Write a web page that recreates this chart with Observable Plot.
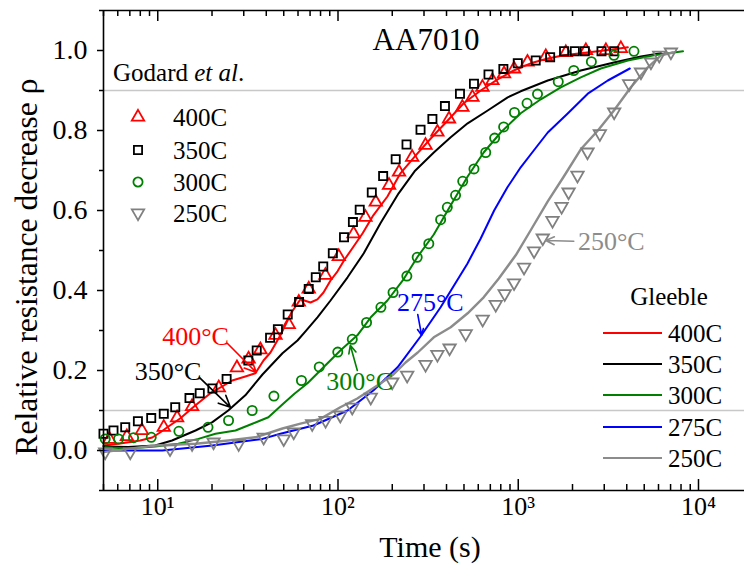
<!DOCTYPE html>
<html><head><meta charset="utf-8">
<script src="https://cdn.jsdelivr.net/npm/d3@7"></script>
<script src="https://cdn.jsdelivr.net/npm/@observablehq/plot@0.6"></script>
<style>body{margin:0;background:#fff} #chart svg{display:block}</style>
</head><body><div id="chart"></div>
<script>
// ---------- Godard et al. (markers) ----------
const godard400T = [5.4, 6.74, 8.17, 10.8, 12.8, 15.5, 21.8, 27.5, 31.9, 37.1, 45, 53.3, 60.6, 68.8, 85.2, 101, 122, 142, 162, 192, 218, 258, 306, 356, 413, 490, 557, 633, 719, 834, 948, 1125, 1422, 1837, 2373, 3065, 3710];
const godard400R = [0.028, 0.035, 0.05, 0.058, 0.082, 0.11, 0.157, 0.207, 0.229, 0.252, 0.288, 0.315, 0.371, 0.404, 0.438, 0.485, 0.542, 0.583, 0.621, 0.663, 0.696, 0.733, 0.763, 0.796, 0.829, 0.858, 0.883, 0.908, 0.925, 0.942, 0.954, 0.971, 0.985, 0.995, 1.0, 1.0, 1.005];
const godard350T = [5.0, 5.68, 6.6, 7.76, 9.2, 10.8, 12.5, 15.0, 17.1, 20.1, 24.1, 31.8, 35.4, 42, 46.4, 52.6, 60.8, 68.8, 75.3, 82.8, 93.6, 108, 121, 132, 154, 178, 209, 240, 287, 334, 392, 475, 568, 684, 827, 994, 1250, 1503, 1796, 2060, 2340, 2897, 3406];
const godard350R = [0.042, 0.05, 0.058, 0.073, 0.081, 0.092, 0.108, 0.131, 0.143, 0.155, 0.179, 0.225, 0.25, 0.282, 0.303, 0.34, 0.371, 0.404, 0.433, 0.46, 0.493, 0.533, 0.571, 0.602, 0.645, 0.686, 0.728, 0.765, 0.802, 0.829, 0.861, 0.892, 0.917, 0.94, 0.954, 0.968, 0.975, 0.983, 0.998, 0.998, 0.998, 0.998, 0.998];
const godard300T = [5.11, 6.06, 7.34, 9.2, 13.1, 19.0, 24.7, 33.4, 44.1, 62.7, 78.7, 99.7, 120, 144, 173, 202, 241, 275, 319, 371, 404, 449, 492, 568, 660, 740, 830, 953, 1119, 1279, 1667, 2033, 2545, 3396, 4385];
const godard300R = [0.029, 0.029, 0.032, 0.033, 0.048, 0.058, 0.075, 0.1, 0.136, 0.175, 0.209, 0.246, 0.278, 0.32, 0.358, 0.395, 0.436, 0.483, 0.517, 0.577, 0.608, 0.638, 0.673, 0.704, 0.745, 0.781, 0.809, 0.845, 0.868, 0.891, 0.922, 0.95, 0.972, 0.988, 0.998];
const godard250T = [5.11, 7.04, 11.7, 15.5, 20.4, 28.1, 38.7, 50, 56.8, 71.9, 85.3, 103, 120, 152, 200, 242, 306, 356, 416, 511, 635, 750, 841, 948, 1077, 1224, 1368, 1549, 1740, 1903, 2132, 2423, 2836, 3406, 4126, 4797, 5449, 6058, 7031];
const godard250R = [-0.004, -0.004, 0.004, 0.017, 0.021, 0.017, 0.033, 0.029, 0.046, 0.067, 0.075, 0.088, 0.108, 0.133, 0.171, 0.188, 0.215, 0.24, 0.256, 0.292, 0.328, 0.365, 0.392, 0.419, 0.458, 0.499, 0.531, 0.575, 0.61, 0.646, 0.688, 0.746, 0.792, 0.846, 0.917, 0.946, 0.971, 0.988, 0.996];

// ---------- Gleeble (lines) ----------
const gleeble400T = [5.0, 6.19, 7.99, 9.32, 10.3, 11.3, 13.3, 16.2, 19.6, 25.9, 30.6, 34.8, 38.6, 42.2, 47.9, 55.2, 61.9, 70.4, 76.9, 83.1, 90.9, 99.4, 109, 122, 137, 157, 188, 222, 270, 327, 406, 498, 619, 769, 944, 1172, 1458, 1790, 2223, 2766, 3396, 4055];
const gleeble400R = [0.0125, 0.0175, 0.025, 0.0325, 0.045, 0.058, 0.08, 0.113, 0.143, 0.175, 0.185, 0.193, 0.225, 0.245, 0.288, 0.345, 0.378, 0.37, 0.378, 0.395, 0.425, 0.448, 0.478, 0.51, 0.543, 0.588, 0.635, 0.693, 0.738, 0.78, 0.825, 0.868, 0.9, 0.928, 0.95, 0.968, 0.98, 0.988, 0.993, 0.998, 1.003, 1.008];
const gleeble350T = [5.0, 6.86, 9.68, 12.0, 16.2, 20.1, 24.6, 30.6, 38.1, 49.2, 59.6, 66.0, 76.9, 90.9, 113, 139, 172, 217, 266, 340, 422, 524, 677, 874, 1032, 1458, 2223, 3396, 4797, 6194];
const gleeble350R = [0.01, 0.009, 0.0125, 0.025, 0.05, 0.071, 0.1, 0.138, 0.19, 0.243, 0.275, 0.298, 0.333, 0.375, 0.433, 0.493, 0.568, 0.643, 0.698, 0.745, 0.783, 0.818, 0.85, 0.883, 0.898, 0.925, 0.95, 0.97, 0.985, 0.993];
const gleeble300T = [5.11, 6.86, 9.68, 13.0, 16.8, 20.9, 27.0, 33.5, 41.1, 48.6, 57.3, 67.7, 83.1, 103, 128, 152, 188, 231, 277, 340, 422, 524, 643, 799, 1032, 1334, 1722, 2223, 2871, 4055, 5660, 8204];
const gleeble300R = [0.008, 0.005, 0.01, 0.017, 0.029, 0.042, 0.05, 0.067, 0.083, 0.113, 0.142, 0.168, 0.208, 0.25, 0.288, 0.333, 0.375, 0.428, 0.485, 0.54, 0.613, 0.685, 0.745, 0.795, 0.843, 0.878, 0.908, 0.933, 0.955, 0.975, 0.988, 0.998];
const gleeble275T = [5.0, 10.6, 20.1, 38.1, 47.9, 73.1, 113, 157, 214, 287, 371, 522, 619, 735, 871, 1032, 1219, 1458, 1875, 2431, 3140, 4159];
const gleeble275R = [0, 0, 0.0125, 0.029, 0.042, 0.0625, 0.1, 0.15, 0.208, 0.285, 0.358, 0.467, 0.53, 0.6, 0.658, 0.708, 0.75, 0.795, 0.842, 0.892, 0.925, 0.955];
const gleeble250T = [5.0, 6.86, 9.68, 16.2, 24.6, 34.8, 49.2, 61.9, 79.9, 103, 128, 166, 203, 237, 277, 340, 422, 524, 643, 780, 968, 1188, 1458, 1790, 2223, 2766, 3396, 4217, 5236, 6194, 7211];
const gleeble250R = [-0.004, 0.004, 0.0125, 0.017, 0.025, 0.033, 0.055, 0.067, 0.079, 0.108, 0.13, 0.163, 0.19, 0.22, 0.245, 0.283, 0.308, 0.343, 0.383, 0.43, 0.488, 0.555, 0.623, 0.685, 0.753, 0.8, 0.85, 0.908, 0.958, 0.988, 0.995];

// ---------- labels / ticks ----------
const godardNames = ["400C", "350C", "300C", "250C"];
const gleebleNames = ["400C", "350C", "300C", "275C", "250C"];
const majorX = [10, 100, 1000, 10000];
const majorXLabels = ["10¹", "10²", "10³", "10⁴"];
const minorX = [5, 6, 7, 8, 9, 20, 30, 40, 50, 60, 70, 80, 90, 200, 300, 400, 500, 600, 700, 800, 900, 2000, 3000, 4000, 5000, 6000, 7000, 8000, 9000];
const majorY = [0, 0.2, 0.4, 0.6, 0.8, 1.0];
const minorY = [-0.1, 0.1, 0.3, 0.5, 0.7, 0.9, 1.1];
const refLinesY = [0.1, 0.9];
const xDomain = [5, 18000];
const yDomain = [-0.1, 1.1];

// annotations (data coordinates)
const annotText = ["400°C", "350°C", "300°C", "275°C", "250°C"];
const annotX = [16.2, 11.4, 132, 325, 2143];
const annotY = [0.285, 0.198, 0.173, 0.37, 0.523];
const arrowX1 = [24.3, 17.0, 128, 277, 2033];
const arrowY1 = [0.268, 0.183, 0.2, 0.34, 0.523];
const arrowX2 = [35.2, 25.3, 117, 291, 1422];
const arrowY2 = [0.195, 0.108, 0.263, 0.288, 0.525];

// ---------- styles ----------
const godardColors = ["#ff0000", "#000000", "#008000", "#808080"];
const godardSymbols = ["triangle", "square", "circle", "triangle"];
const godardRotate = [0, 0, 0, 180];
const gleebleColors = ["#ff0000", "#000000", "#008000", "#0000ff", "#8c8c8c"];
const annotColors = ["#ff0000", "#000000", "#008000", "#0000ff", "#8c8c8c"];
const annotAnchor = ["middle", "middle", "middle", "middle", "start"];
const FONT = "'Liberation Serif', 'Times New Roman', serif";

const W = 744, H = 570;
const rows = (t, r) => t.map((d, i) => ({t: d, r: r[i]}));
const godardT = [godard400T, godard350T, godard300T, godard250T];
const godardR = [godard400R, godard350R, godard300R, godard250R];
const gleebleT = [gleeble400T, gleeble350T, gleeble300T, gleeble275T, gleeble250T];
const gleebleR = [gleeble400R, gleeble350R, gleeble300R, gleeble275R, gleeble250R];
const annots = annotText.map((s, i) => ({s, x: annotX[i], y: annotY[i], x1: arrowX1[i], y1: arrowY1[i], x2: arrowX2[i], y2: arrowY2[i], c: annotColors[i], a: annotAnchor[i]}));

const marks = [
  Plot.ruleY(refLinesY, {stroke: "#c8c8c8", strokeWidth: 1.3}),
  ...gleebleT.map((t, i) => Plot.line(rows(t, gleebleR[i]), {x: "t", y: "r", stroke: gleebleColors[i], strokeWidth: i === 4 ? 2.4 : 2})),
  ...godardT.map((t, i) => Plot.dot(rows(t, godardR[i]), {x: "t", y: "r", stroke: godardColors[i], symbol: godardSymbols[i], rotate: godardRotate[i], r: 4.6, strokeWidth: 1.8, fill: "none"})),
  Plot.arrow(annots, {x1: "x1", y1: "y1", x2: "x2", y2: "y2", stroke: "c", strokeWidth: 1.6, headLength: 12, headAngle: 50}),
  ...annots.map(a => Plot.text([a], {x: "x", y: "y", text: "s", fill: "c", fontSize: 26, textAnchor: a.a})),
  // frame
  Plot.ruleX([xDomain[0]], {strokeWidth: 1.6}),
  Plot.ruleY(yDomain, {strokeWidth: 1.6}),
  // inward x ticks, bottom and top
  Plot.tickX(majorX, {x: d => d, insetTop: 469, strokeWidth: 1.5}),
  Plot.tickX(minorX, {x: d => d, insetTop: 474, strokeWidth: 1.5}),
  Plot.tickX(majorX, {x: d => d, insetBottom: 469, strokeWidth: 1.5}),
  Plot.tickX(minorX, {x: d => d, insetBottom: 474, strokeWidth: 1.5}),
  Plot.axisX({ticks: majorX, tickSize: 0, tickPadding: 6, tickFormat: (d) => majorXLabels[majorX.indexOf(d)], fontSize: 26, label: null}),
  Plot.axisY({ticks: majorY, tickSize: 6, tickPadding: 10, tickFormat: d3.format(".1f"), fontSize: 28, strokeWidth: 1.5, label: null}),
  Plot.axisY({ticks: minorY, tickSize: 4, tickFormat: () => "", strokeWidth: 1.5, label: null})
];

const svg = Plot.plot({
  width: W, height: H,
  marginLeft: 103, marginRight: 0, marginTop: 10, marginBottom: 80,
  x: {type: "log", domain: xDomain},
  y: {domain: yDomain},
  style: {fontFamily: FONT, fontSize: "26px", background: "#fff", color: "#000"},
  marks
});

const s = d3.select(svg);
const addText = (x, y, txt, size, anchor) => s.append("text").attr("x", x).attr("y", y)
  .attr("text-anchor", anchor).attr("font-size", size).attr("font-family", FONT).text(txt);
// title
addText(426, 50, "AA7010", 31, "middle");
// axis titles
addText(430, 557, "Time (s)", 30, "middle");
s.append("text").attr("transform", "translate(37,267) rotate(-90)").attr("text-anchor", "middle")
  .attr("font-size", 31.5).attr("font-family", FONT).text("Relative resistance decrease ρ");

// Godard legend
const gt = s.append("text").attr("x", 113).attr("y", 81).attr("text-anchor", "start")
  .attr("font-size", 25).attr("font-family", FONT);
gt.append("tspan").text("Godard ");
gt.append("tspan").attr("font-style", "italic").text("et al");
gt.append("tspan").text(".");
const symMap = {triangle: d3.symbolTriangle, square: d3.symbolSquare, circle: d3.symbolCircle};
const gRowY = [117, 150, 182, 213];
godardNames.forEach((n, i) => {
  s.append("path").attr("d", d3.symbol(symMap[godardSymbols[i]], Math.PI * 4.6 * 4.6)())
    .attr("transform", `translate(138,${gRowY[i]}) rotate(${godardRotate[i]})`)
    .attr("fill", "none").attr("stroke", godardColors[i]).attr("stroke-width", 1.8);
  addText(173, gRowY[i], n, 25, "start").attr("dy", "0.35em");
});

// Gleeble legend
addText(669, 296, "Gleeble", 25, "middle").attr("dy", "0.35em");
const lRowY = [333, 364, 395, 427, 458];
gleebleNames.forEach((n, i) => {
  s.append("line").attr("x1", 603).attr("x2", 662).attr("y1", lRowY[i]).attr("y2", lRowY[i])
    .attr("stroke", gleebleColors[i]).attr("stroke-width", 2.2);
  addText(668, lRowY[i], n, 25, "start").attr("dy", "0.35em");
});

document.getElementById("chart").appendChild(svg);
</script>
</body></html>
